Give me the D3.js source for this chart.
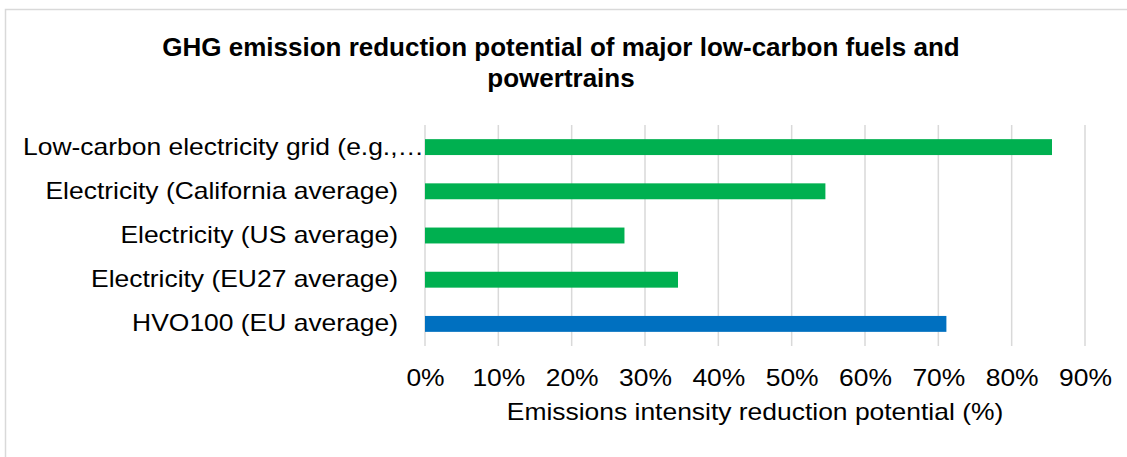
<!DOCTYPE html>
<html>
<head>
<meta charset="utf-8">
<script src="https://cdn.jsdelivr.net/npm/d3@7"></script>
<style>
  html, body { margin: 0; padding: 0; background: #fff; }
  svg { display: block; font-family: "Liberation Sans", Arial, sans-serif; }
</style>
</head>
<body>
<svg id="chart" width="1127" height="457"></svg>
<script>
// Categories, top to bottom
const categories = [
  "Low-carbon electricity grid (e.g.,\u2026",
  "Electricity (California average)",
  "Electricity (US average)",
  "Electricity (EU27 average)",
  "HVO100 (EU average)"
];
// Emissions intensity reduction potential (fraction)
const reductions = [0.855, 0.546, 0.272, 0.345, 0.711];
// Fuel group per bar: electricity vs. renewable diesel
const groups = ["electricity", "electricity", "electricity", "electricity", "fuel"];
const tickValues = [0, 0.1, 0.2, 0.3, 0.4, 0.5, 0.6, 0.7, 0.8, 0.9];

const titleLines = ["GHG emission reduction potential of major low-carbon fuels and", "powertrains"];
const axisTitle = "Emissions intensity reduction potential (%)";

const svg = d3.select("#chart");
const W = 1127, H = 457;
const plot = { left: 425, right: 1085, top: 125, bottom: 346 };
const FONT = "'Liberation Sans', Arial, sans-serif";
const labelSize = 23, stretch = 1.15;   // body text is set slightly wide

// Chart-area border
svg.append("rect")
  .attr("x", 5.5).attr("y", 9.5)
  .attr("width", W + 10).attr("height", H + 10)
  .attr("fill", "none").attr("stroke", "#d9d9d9").attr("stroke-width", 1.5);

// Title
svg.append("text")
  .attr("text-anchor", "middle")
  .attr("font-size", 26).attr("font-weight", "bold").attr("fill", "#000")
  .selectAll("tspan").data(titleLines).join("tspan")
  .attr("x", 561).attr("y", (d, i) => 56 + i * 30.5)
  .text(d => d);

const x = d3.scaleLinear().domain([0, 0.9]).range([plot.left, plot.right]);
const y = d3.scaleBand().domain(categories).range([plot.top, plot.bottom]).paddingInner(0.64).paddingOuter(0.32);
const color = d3.scaleOrdinal().domain(["electricity", "fuel"]).range(["#00b050", "#0070c0"]);

// Vertical gridlines
svg.append("g")
  .selectAll("line").data(tickValues).join("line")
  .attr("x1", d => x(d)).attr("x2", d => x(d))
  .attr("y1", plot.top).attr("y2", plot.bottom)
  .attr("stroke", "#d9d9d9").attr("stroke-width", 1.5);

// Bars
svg.append("g")
  .selectAll("rect").data(categories).join("rect")
  .attr("x", x(0))
  .attr("y", d => y(d))
  .attr("width", (d, i) => x(reductions[i]) - x(0))
  .attr("height", y.bandwidth())
  .attr("fill", (d, i) => color(groups[i]));

// Category labels
const yAxis = d3.axisLeft(y).tickSize(0).tickPadding(0);
const gy = svg.append("g").attr("transform", `translate(398,0)`).call(yAxis);
gy.select(".domain").remove();
gy.selectAll("text").attr("font-size", labelSize).attr("fill", "#000").attr("font-family", FONT)
  .attr("x", 0).attr("dy", "0.33em");
gy.selectAll(".tick").each(function (d, i) {
  const t = d3.select(this);
  const dx = i === 0 ? 26 : 0;   // the truncated first label runs up to the bars
  t.attr("transform", `translate(${dx},${y(d) + y.bandwidth() / 2}) scale(${stretch},1)`);
});

// X tick labels
const xAxis = d3.axisBottom(x).tickValues(tickValues).tickFormat(d3.format(".0%")).tickSize(0).tickPadding(0);
const gx = svg.append("g").attr("transform", `translate(0,369)`).call(xAxis);
gx.select(".domain").remove();
gx.selectAll("text").attr("font-size", labelSize).attr("fill", "#000").attr("font-family", FONT)
  .attr("dy", "0.72em")
  .attr("transform", `scale(${stretch},1)`);

// Axis title
svg.append("g").attr("transform", `translate(755,420) scale(${stretch},1)`)
  .append("text")
  .attr("text-anchor", "middle")
  .attr("font-size", labelSize).attr("fill", "#000")
  .text(axisTitle);
</script>
</body>
</html>
